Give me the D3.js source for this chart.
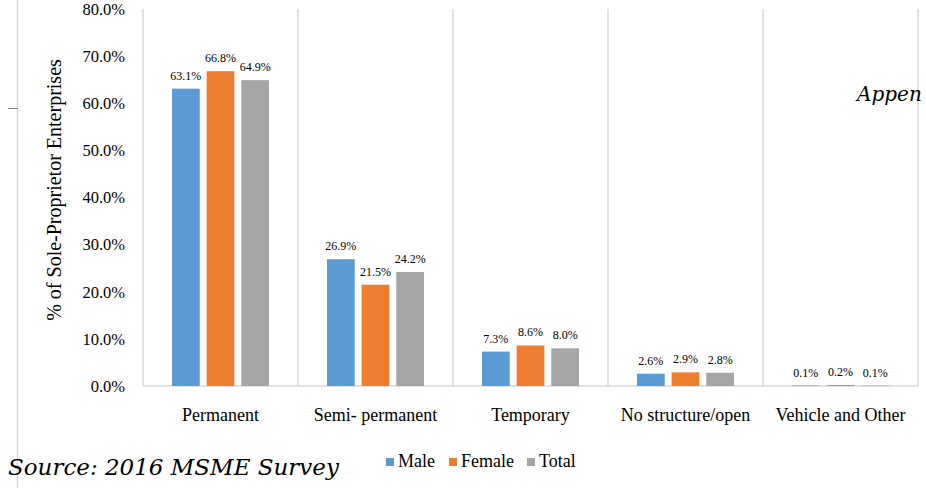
<!DOCTYPE html>
<html>
<head>
<meta charset="utf-8">
<script src="https://cdn.jsdelivr.net/npm/d3@7"></script>
<style>
  body { margin: 0; background: #fff; }
  svg { display: block; }
  .serif { font-family: "Liberation Serif", "DejaVu Serif Condensed", "DejaVu Serif", serif; }
  .page { font-family: "DejaVu Serif", Georgia, serif; font-style: italic; }
</style>
</head>
<body>
<div id="chart"></div>
<script>
"use strict"

// data
var categories = ["Permanent", "Semi- permanent", "Temporary", "No structure/open", "Vehicle and Other"];
var series = ["Male", "Female", "Total"];
var male = [63.1, 26.9, 7.3, 2.6, 0.1];
var female = [66.8, 21.5, 8.6, 2.9, 0.2];
var total = [64.9, 24.2, 8.0, 2.8, 0.1];
var yTicks = [0, 10, 20, 30, 40, 50, 60, 70, 80];
var colors = ["#5b9bd5", "#ed7d31", "#a5a5a5"];

var width = 926, height = 488;
var margin = {top: 9, right: 8, bottom: 102, left: 143};
var w = width - margin.left - margin.right;
var h = height - margin.top - margin.bottom;

var svg = d3.select("#chart").append("svg")
	.attr("width", width)
	.attr("height", height);

// page border line and little dash on the left
svg.append("line")
	.attr("x1", 17.5).attr("x2", 17.5)
	.attr("y1", 0).attr("y2", height)
	.attr("stroke", "#d9d9d9").attr("stroke-width", 1.5);
svg.append("line")
	.attr("x1", 8).attr("x2", 18)
	.attr("y1", 108.5).attr("y2", 108.5)
	.attr("stroke", "#7f7f7f").attr("stroke-width", 1);

var g = svg.append("g")
	.attr("transform", "translate(" + margin.left + "," + margin.top + ")");

var x0 = d3.scaleBand()
	.domain(categories)
	.range([0, w])
	.paddingInner(0)
	.paddingOuter(0);

var x1 = d3.scaleBand()
	.domain(series)
	.range([29, x0.bandwidth() - 29])
	.paddingInner(0.2);

var y = d3.scaleLinear()
	.domain([0, 80])
	.range([h, 0]);

// vertical gridlines at category edges
var edges = categories.map(function(c) { return x0(c); }).concat([w]);
g.selectAll("line.grid").data(edges).enter().append("line")
	.attr("class", "grid")
	.attr("x1", function(d) { return d; })
	.attr("x2", function(d) { return d; })
	.attr("y1", 0).attr("y2", h)
	.attr("stroke", "#d9d9d9").attr("stroke-width", 1.5);

// bottom axis line
g.append("line")
	.attr("x1", 0).attr("x2", w)
	.attr("y1", h).attr("y2", h)
	.attr("stroke", "#d9d9d9").attr("stroke-width", 1.5);

// y tick labels
g.selectAll("text.ytick").data(yTicks).enter().append("text")
	.attr("class", "ytick serif")
	.attr("x", -18)
	.attr("y", function(d) { return y(d); })
	.attr("dy", "0.35em")
	.attr("text-anchor", "end")
	.style("font-size", "16.5px")
	.attr("fill", "#000")
	.text(function(d) { return d.toFixed(1) + "%"; });

// bars
var rows = categories.map(function(c, i) {
	return {cat: c, vals: [male[i], female[i], total[i]]};
});

var groups = g.selectAll("g.cat").data(rows).enter().append("g")
	.attr("class", "cat")
	.attr("transform", function(d) { return "translate(" + x0(d.cat) + ",0)"; });

groups.selectAll("rect").data(function(d) {
	return d.vals.map(function(v, j) { return {s: series[j], v: v, j: j}; });
}).enter().append("rect")
	.attr("x", function(d) { return x1(d.s); })
	.attr("y", function(d) { return y(d.v); })
	.attr("width", x1.bandwidth())
	.attr("height", function(d) { return h - y(d.v); })
	.attr("fill", function(d) { return colors[d.j]; });

groups.selectAll("text").data(function(d) {
	return d.vals.map(function(v, j) { return {s: series[j], v: v, j: j}; });
}).enter().append("text")
	.attr("class", "serif")
	.attr("x", function(d) { return x1(d.s) + x1.bandwidth() / 2; })
	.attr("y", function(d) { return y(d.v) - 9; })
	.attr("text-anchor", "middle")
	.style("font-size", "12px")
	.attr("fill", "#000")
	.text(function(d) { return d.v.toFixed(1) + "%"; });

// category labels
g.selectAll("text.xlab").data(categories).enter().append("text")
	.attr("class", "xlab serif")
	.attr("x", function(d) { return x0(d) + x0.bandwidth() / 2; })
	.attr("y", h + 35)
	.attr("text-anchor", "middle")
	.style("font-size", "18px")
	.attr("fill", "#000")
	.text(function(d) { return d; });

// y axis title
svg.append("text")
	.attr("class", "serif")
	.attr("transform", "translate(61,190) rotate(-90)")
	.attr("text-anchor", "middle")
	.style("font-size", "20px")
	.attr("fill", "#000")
	.text("% of Sole-Proprietor Enterprises");

// legend
var legend = svg.append("g").attr("transform", "translate(386,467)");
var lx = [0, 63, 141];
series.forEach(function(s, i) {
	legend.append("rect")
		.attr("x", lx[i]).attr("y", -9)
		.attr("width", 8).attr("height", 8)
		.attr("fill", colors[i]);
	legend.append("text")
		.attr("class", "serif")
		.attr("x", lx[i] + 12).attr("y", 0)
		.style("font-size", "18px")
		.attr("fill", "#000")
		.text(s);
});

// overlaid page text
svg.append("text")
	.attr("class", "page")
	.attr("x", 8).attr("y", 475)
	.style("font-size", "23px")
	.attr("fill", "#000")
	.text("Source: 2016 MSME Survey");

svg.append("text")
	.attr("class", "page")
	.attr("x", 857).attr("y", 101)
	.style("font-size", "20px")
	.attr("fill", "#000")
	.text("Appen");
</script>
</body>
</html>
